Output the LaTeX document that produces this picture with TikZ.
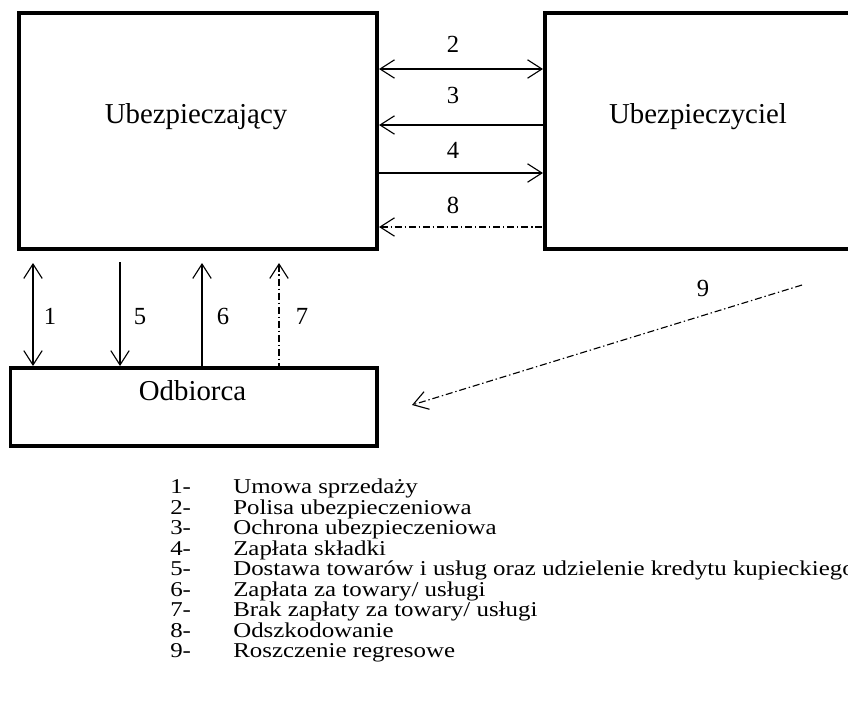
\documentclass[tikz,border=0pt]{standalone}
\usepackage{fontspec}
\setmainfont{Liberation Serif}
\newfontfamily\legendfont[FakeStretch=1.18]{Liberation Serif}
\usetikzlibrary{arrows.meta,calc}

\begin{document}
\begin{tikzpicture}[x=0.025cm, y=-0.025cm,
  box/.style={draw, line width=2.8pt, inner sep=0pt},
  boxtext/.style={font=\fontsize{20.5}{24}\selectfont, anchor=base},
  num/.style={font=\fontsize{17.5}{20}\selectfont, text height=11.6pt, text depth=0pt},
  link/.style={line width=0.8pt, >={Straight Barb[length=3.6mm, width=4.6mm]}},
  dashdot/.style={dash pattern=on 5pt off 2pt on 1pt off 2pt},
  legend/.style={font=\legendfont\fontsize{15}{14.53}\selectfont, anchor=base west,
    inner sep=0pt, text height=10pt, text depth=3pt}]
  \useasboundingbox (0,0) rectangle (848,713);
  \clip (0,0) rectangle (848,713);

  % boxes
  \node[box, minimum width=8.94cm, minimum height=5.9cm] (ubz) at (198.25,131) {};
  \node[box, minimum width=8.125cm, minimum height=5.9cm] (ubc) at (707.5,131) {};
  \node[box, minimum width=9.16cm, minimum height=1.95cm] (odb) at (193.75,407) {};
  \node[boxtext] (ubzname) at (196,123) {Ubezpieczający};
  \node[boxtext] (ubcname) at (698,123) {Ubezpieczyciel};
  \node[boxtext] (odbname) at (192.5,400) {Odbiorca};

  % arrows between the two upper boxes
  \draw[link, <->] (ubz.east |- 0,69) -- (ubc.west |- 0,69);
  \draw[link, <-] (ubz.east |- 0,125) -- (ubc.west |- 0,125);
  \draw[link, ->] (ubz.east |- 0,173) -- (ubc.west |- 0,173);
  \draw[link, dashdot, <-] (ubz.east |- 0,227) -- (ubc.west |- 0,227);
  \node[num] (n2) at (453,44) {2};
  \node[num] (n3) at (453,95) {3};
  \node[num] (n4) at (453,150) {4};
  \node[num] (n8) at (453,205) {8};

  % arrows down to the buyer
  \draw[link, <->] ($(ubz.south -| 33,0)+(0,12)$) -- (odb.north -| 33,0);
  \draw[link, ->] ($(ubz.south -| 120,0)+(0,11)$) -- (odb.north -| 120,0);
  \draw[link, <-] ($(ubz.south -| 202,0)+(0,12)$) -- (odb.north -| 202,0);
  \draw[link, dashdot, <-] ($(ubz.south -| 279,0)+(0,12)$) -- (odb.north -| 279,0);
  \node[num] (n1) at (50,316) {1};
  \node[num] (n5) at (140,316) {5};
  \node[num] (n6) at (223,316) {6};
  \node[num] (n7) at (302,316) {7};

  % recourse claim
  \coordinate (r9start) at (802,285);
  \coordinate (r9end) at (412,405);
  \draw[link, dashdot, ->] (r9start) -- (r9end);
  \node[num] (n9) at (703,288) {9};

  % legend
  \foreach \n/\txt [count=\i from 0] in {1/{Umowa sprzedaży}, 2/{Polisa ubezpieczeniowa},
      3/{Ochrona ubezpieczeniowa}, 4/{Zapłata składki},
      5/{Dostawa towarów i usług oraz udzielenie kredytu kupieckiego},
      6/{Zapłata za towary/ usługi}, 7/{Brak zapłaty za towary/ usługi},
      8/{Odszkodowanie}, 9/{Roszczenie regresowe}} {
    \node[legend] (legnum\n) at (170,{493.5+20.5*\i}) {\n-};
    \node[legend] (legtxt\n) at (233,{493.5+20.5*\i}) {\txt};
  }
\end{tikzpicture}
\end{document}
